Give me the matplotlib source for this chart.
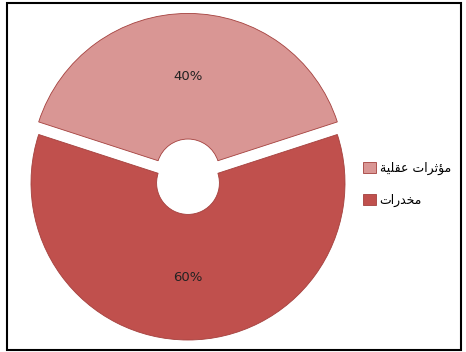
import matplotlib
matplotlib.use('Agg')
import matplotlib.pyplot as plt
from matplotlib.patches import Rectangle, Patch

# Data
labels = ['مؤثرات عقلية', 'مخدرات']
values = [40, 60]
colors = ['#D99694', '#C0504D']

# Arabic presentation forms: isolated, final, initial, medial
forms = {
    'م': ('\uFEE1', '\uFEE2', '\uFEE3', '\uFEE4'),
    'ؤ': ('\uFE85', '\uFE86', None, None),
    'ث': ('\uFE99', '\uFE9A', '\uFE9B', '\uFE9C'),
    'ر': ('\uFEAD', '\uFEAE', None, None),
    'ا': ('\uFE8D', '\uFE8E', None, None),
    'ت': ('\uFE95', '\uFE96', '\uFE97', '\uFE98'),
    'ع': ('\uFEC9', '\uFECA', '\uFECB', '\uFECC'),
    'ق': ('\uFED5', '\uFED6', '\uFED7', '\uFED8'),
    'ل': ('\uFEDD', '\uFEDE', '\uFEDF', '\uFEE0'),
    'ي': ('\uFEF1', '\uFEF2', '\uFEF3', '\uFEF4'),
    'ة': ('\uFE93', '\uFE94', None, None),
    'خ': ('\uFEA5', '\uFEA6', '\uFEA7', '\uFEA8'),
    'د': ('\uFEA9', '\uFEAA', None, None),
}


def shape(text):
    # join letters and reverse for right-to-left display
    out = []
    for i, ch in enumerate(text):
        if ch not in forms:
            out.append(ch)
            continue
        prev = text[i - 1] if i > 0 else ''
        nxt = text[i + 1] if i + 1 < len(text) else ''
        jp = prev in forms and forms[prev][2] is not None
        jn = forms[ch][2] is not None and nxt in forms
        f = forms[ch]
        if jp and jn:
            out.append(f[3])
        elif jp:
            out.append(f[1])
        elif jn:
            out.append(f[2])
        else:
            out.append(f[0])
    return ''.join(out[::-1])


fig = plt.figure(figsize=(4.66, 3.52), dpi=100)
W, H = 466, 352

# outer frame
fig.patches.append(Rectangle((7 / W, 2 / H), 454 / W, 347 / H, transform=fig.transFigure,
                             fill=False, edgecolor='black', linewidth=1.5))

cx, cy, r = 188, 183, 157
ax = fig.add_axes([(cx - r) / W, (H - cy - r) / H, 2 * r / W, 2 * r / H])
wedges, texts, autotexts = ax.pie(values, colors=colors, startangle=18, counterclock=True,
                                  explode=[0.08, 0], autopct='%d%%', pctdistance=0.6,
                                  wedgeprops=dict(width=0.8, edgecolor='#A4403D', linewidth=0.6),
                                  textprops=dict(fontsize=9.5, color='#222222'))
ax.set_xlim(-1, 1)
ax.set_ylim(-1, 1)
ax.set_aspect('equal')
ax.axis('off')

handles = [Patch(facecolor=c, edgecolor='#A4403D', linewidth=0.6) for c in colors]
fig.legend(handles, [shape(l) for l in labels], loc='center left',
           bbox_to_anchor=(352 / W, 1 - 184 / H), frameon=False,
           handlelength=1.0, handleheight=1.0, handletextpad=0.3, labelspacing=1.5,
           prop=dict(family='DejaVu Sans', size=9))

fig.savefig('out.png', dpi=100)
